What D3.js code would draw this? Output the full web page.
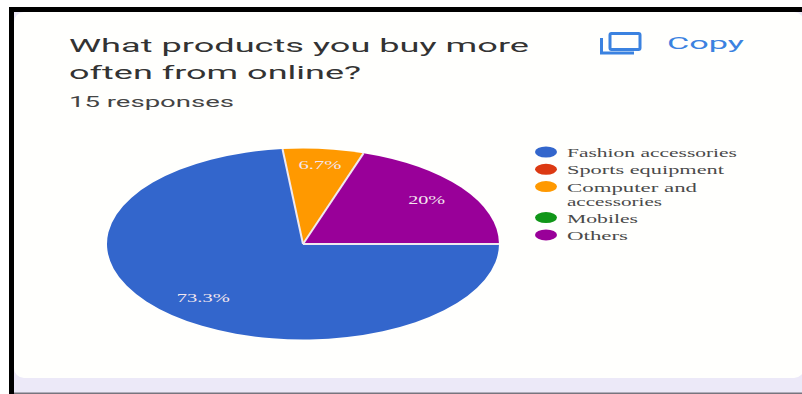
<!DOCTYPE html>
<html>
<head>
<meta charset="utf-8">
<script src="https://cdn.jsdelivr.net/npm/d3@7/dist/d3.min.js"></script>
<style>
html,body{margin:0;padding:0;background:#fff;overflow:hidden}
svg{display:block}
</style>
</head>
<body>
<svg id="chart" width="802" height="394"></svg>
<script>
const categories = ["Fashion accessories", "Sports equipment", "Computer and accessories", "Mobiles", "Others"];
const responses = [11, 0, 1, 0, 3];
const sliceLabels = ["73.3%", "", "6.7%", "", "20%"];
const colours = ["#3366cc", "#dc3912", "#ff9900", "#109618", "#990099"];
const legendLines = [["Fashion accessories"], ["Sports equipment"], ["Computer and", "accessories"], ["Mobiles"], ["Others"]];
const legendWidths = [[170], [157], [130, 95], [71], [61]];
const titleLines = ["What products you buy more", "often from online?"];
const responseNote = "15 responses";

const svg = d3.select("#chart");

// Page frame: lavender backdrop, white card, heavy black edges
svg.append("rect").attr("x", 9).attr("y", 7).attr("width", 793).attr("height", 386).attr("fill", "#ece9f8");
svg.append("rect").attr("x", 14).attr("y", 12).attr("width", 790).attr("height", 366).attr("rx", 10).attr("fill", "#fffffd");
svg.append("rect").attr("x", 9).attr("y", 7).attr("width", 793).attr("height", 5).attr("fill", "#000");
svg.append("rect").attr("x", 9).attr("y", 7).attr("width", 5).attr("height", 387).attr("fill", "#000");
svg.append("rect").attr("x", 14).attr("y", 392.5).attr("width", 788).attr("height", 1.5).attr("fill", "#77757e");

// Heading block
const sans = "Roboto, 'Noto Sans', sans-serif";
svg.selectAll("text.title").data(titleLines).join("text")
  .attr("class", "title")
  .attr("x", 69)
  .attr("y", (d, i) => 52 + i * 26.5)
  .attr("textLength", (d, i) => i === 0 ? 460 : 292)
  .attr("lengthAdjust", "spacingAndGlyphs")
  .attr("font-family", sans).attr("font-size", 19).attr("fill", "#333333")
  .text(d => d);
svg.append("text").attr("x", 69).attr("y", 107)
  .attr("textLength", 165).attr("lengthAdjust", "spacingAndGlyphs")
  .attr("font-family", sans).attr("font-size", 14).attr("fill", "#444444")
  .text(responseNote);

// Copy button
const copyBlue = "#3b82e0";
const copy = svg.append("g").attr("fill", "none").attr("stroke", copyBlue).attr("stroke-width", 3);
copy.append("rect").attr("x", 610).attr("y", 33.5).attr("width", 30).attr("height", 16).attr("rx", 1.5);
copy.append("path").attr("d", "M601.5,38V53H634");
svg.append("text").attr("x", 667).attr("y", 49)
  .attr("textLength", 77).attr("lengthAdjust", "spacingAndGlyphs")
  .attr("font-family", sans).attr("font-size", 17).attr("font-weight", 400).attr("fill", copyBlue)
  .text("Copy");

// Pie, drawn on a unit radius and widened into an ellipse
const cx = 303, cy = 244, rx = 196, ry = 95.5;
const pie = d3.pie().sort(null).startAngle(Math.PI / 2).endAngle(Math.PI * 2.5);
const arc = d3.arc().innerRadius(0).outerRadius(1);
const arcs = pie(responses);
const xScale = d3.scaleLinear().domain([-1, 1]).range([cx - rx, cx + rx]);
const yScale = d3.scaleLinear().domain([-1, 1]).range([cy - ry, cy + ry]);

const pieGroup = svg.append("g")
  .attr("transform", `translate(${cx},${cy}) scale(${rx},${ry})`);
// Fill first, then separators only along the slice edges so the rim stays clean
pieGroup.selectAll("path.slice").data(arcs.filter(d => d.value > 0)).join("path")
  .attr("class", "slice")
  .attr("d", arc)
  .attr("fill", d => colours[d.index]);
pieGroup.selectAll("line").data(arcs.filter(d => d.value > 0)).join("line")
  .attr("x1", 0).attr("y1", 0)
  .attr("x2", d => Math.sin(d.startAngle))
  .attr("y2", d => -Math.cos(d.startAngle))
  .attr("stroke", "#efe9ef")
  .attr("stroke-width", 2)
  .attr("vector-effect", "non-scaling-stroke");

// Percentage labels placed along each slice's mid-angle
const serif = "'Liberation Serif', 'DejaVu Serif', serif";
const labelRadius = { 0: 0.76, 2: 0.83, 4: 0.78 };
const labelWidth = { 0: 53, 2: 43, 4: 37 };
svg.selectAll("text.value").data(arcs.filter(d => d.value > 0)).join("text")
  .attr("class", "value")
  .attr("x", d => xScale(Math.sin((d.startAngle + d.endAngle) / 2) * labelRadius[d.index]))
  .attr("y", d => yScale(-Math.cos((d.startAngle + d.endAngle) / 2) * labelRadius[d.index]) + 4)
  .attr("text-anchor", "middle")
  .attr("textLength", d => labelWidth[d.index])
  .attr("lengthAdjust", "spacingAndGlyphs")
  .attr("font-family", serif).attr("font-size", 12).attr("fill", "#f3e6ee")
  .text(d => sliceLabels[d.index]);

// Legend
let legendY = 152;
const legendRows = categories.map((name, i) => {
  const row = { i, y: legendY };
  legendY += legendLines[i].length > 1 ? 31 : 17.3;
  return row;
});
const legend = svg.append("g");
legend.selectAll("ellipse").data(legendRows).join("ellipse")
  .attr("cx", 546).attr("cy", d => d.y)
  .attr("rx", 11).attr("ry", 5.5)
  .attr("fill", d => colours[d.i]);
legendRows.forEach(row => {
  legendLines[row.i].forEach((line, j) => {
    legend.append("text")
      .attr("x", 567).attr("y", row.y + 5 + j * 14.5)
      .attr("textLength", legendWidths[row.i][j])
      .attr("lengthAdjust", "spacingAndGlyphs")
      .attr("font-family", serif).attr("font-size", 12).attr("fill", "#4a4a4a")
      .text(line);
  });
});
</script>
</body>
</html>
